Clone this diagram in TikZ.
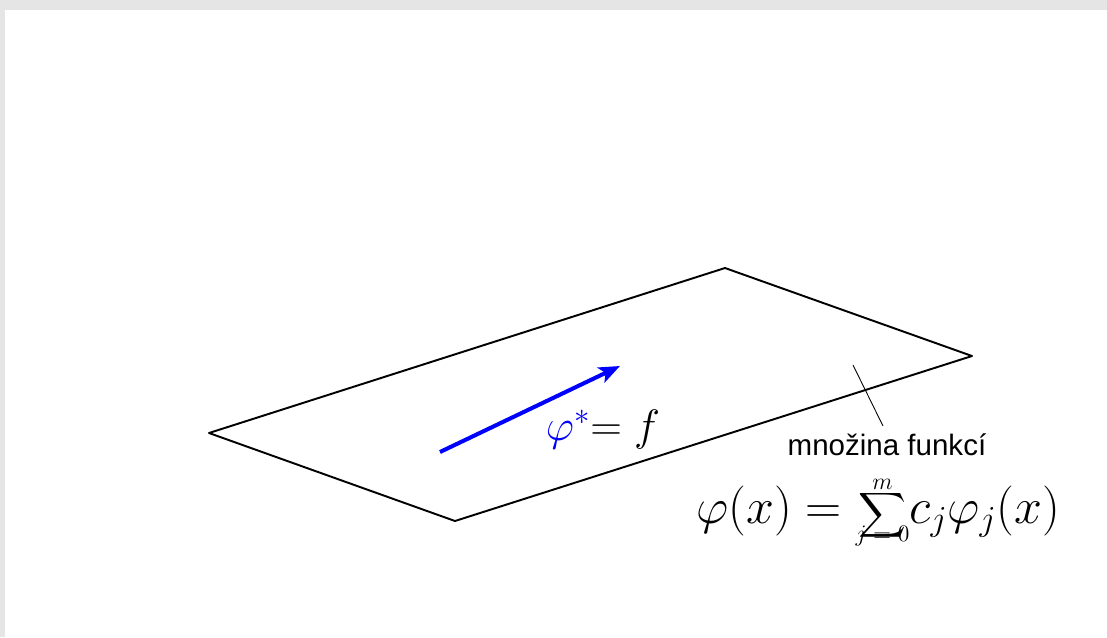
\RequirePackage{fix-cm}
\documentclass[tikz,border=0pt]{standalone}
\usepackage{graphicx}
\usepackage{exscale}
\usepackage{fontspec}
\newfontfamily\labelfont{Liberation Sans}
\usetikzlibrary{arrows.meta}
\definecolor{framegray}{HTML}{E5E5E5}
% sum with small limits set close to the sign
\newcommand{\tightsum}[2]{\mathop{\vcenter{\offinterlineskip\halign{\hfil##\hfil\cr
  \mbox{\fontsize{13.5}{14}\selectfont$#2$}\cr\noalign{\kern0.5pt}
  \resizebox*{0.96cm}{1.0cm}{$\displaystyle\sum$}\cr\noalign{\kern1pt}
  \smash{\mbox{\fontsize{13.5}{14}\selectfont$#1$}}\cr}}}}

\begin{document}
\begin{tikzpicture}[
    x=0.02cm, y=-0.02cm,
    plane/.style={line width=1.1pt, line join=round},
    vec/.style={-{Stealth[length=4.2mm, width=3.3mm, inset=1mm]}, line width=2.3pt, color=blue},
    tickline/.style={line width=0.5pt},
    lbl/.style={font=\labelfont\fontsize{16.8}{20}\selectfont},
    eq/.style={font=\fontsize{25}{30}\selectfont, inner sep=0pt},
    bigeq/.style={font=\fontsize{28.5}{34}\selectfont, inner sep=0pt}
]

% --- page frame ---
\fill[framegray] (0,0) rectangle (1107,637);
\fill[white] (5,10) rectangle (1107,637);
\useasboundingbox (0,0) rectangle (1107,637);

% --- the plane of functions ---
\coordinate (pl) at (209,433);
\coordinate (pt) at (725,268);
\coordinate (pr) at (972,356);
\coordinate (pb) at (455,521);
\draw[plane] (pl) -- (pt) -- (pr) -- (pb) -- cycle;

% --- best approximation ---
\coordinate (vs) at (440,452);
\coordinate (ve) at (620,366);
\draw[vec] (vs) -- (ve);
\node[eq, anchor=base] (phistar) at (603,440) {$\textcolor{blue}{\varphi^*}{=}\;f$};

% --- label of the set ---
\coordinate (ta) at (853,365);
\coordinate (tb) at (883,426);
\draw[tickline] (ta) -- (tb);
\node[lbl, anchor=base] (setlbl) at (887,455) {množina funkcí};
\node[bigeq, anchor=base west] (sumeq) at (696,523) {$\varphi(x)=\tightsum{j=0}{m}\!c_j\varphi_j(x)$};

\end{tikzpicture}
\end{document}
